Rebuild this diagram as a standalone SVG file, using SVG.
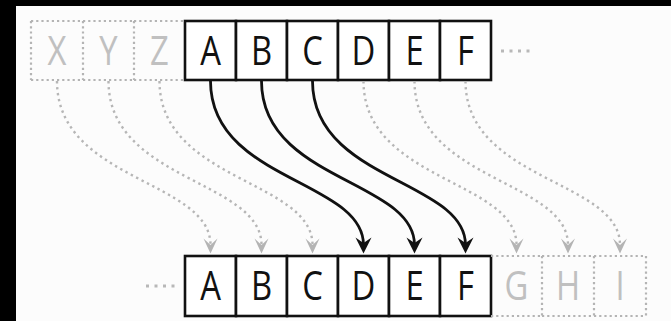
<svg xmlns="http://www.w3.org/2000/svg" width="671" height="321" viewBox="0 0 671 321">
  <style>
    .cell { fill: #ffffff; stroke: #111111; stroke-width: 2.6; }
    .ghost { fill: none; stroke: #b4b4b4; stroke-width: 2.2; stroke-dasharray: 2.2 3; }
    .lbl { font-family: "Open Sans", "Liberation Sans", sans-serif; font-size: 40px; text-anchor: middle; fill: #111111; }
    .lbl-ghost { font-family: "Open Sans", "Liberation Sans", sans-serif; font-size: 40px; text-anchor: middle; fill: #c0c0c0; }
    .ellipsis { stroke: #b8b8b8; stroke-width: 3; stroke-dasharray: 3 5.5; }
    .move { fill: none; stroke: #111111; stroke-width: 2.8; marker-end: url(#head-solid); }
    .move-ghost { fill: none; stroke: #b6b6b6; stroke-width: 2.4; stroke-dasharray: 2.4 3.6; marker-end: url(#head-ghost); }
  </style>
  <defs>
    <marker id="head-solid" viewBox="-10 -10 20 20" refX="0" refY="0" markerWidth="20" markerHeight="20" markerUnits="userSpaceOnUse" orient="auto">
      <path d="M8.5,0 L-7.5,-8 L-2,0 L-7.5,8 Z" fill="#111111"/>
    </marker>
    <marker id="head-ghost" viewBox="-10 -10 20 20" refX="0" refY="0" markerWidth="20" markerHeight="20" markerUnits="userSpaceOnUse" orient="auto">
      <path d="M8.5,0 L-6.5,-7 L0,0 L-6.5,7 Z" fill="#b4b4b4"/>
    </marker>
  </defs>

  <!-- canvas -->
  <rect x="0" y="0" width="671" height="321" fill="#000000"/>
  <rect x="16" y="6" width="655" height="315" fill="#fcfcfc"/>

  <!-- source row: ghost cells X Y Z -->
  <g id="src-X">
    <path class="ghost" d="M31,21 H83 M31,80 H83 M31,21 V80"/>
    <text class="lbl-ghost" transform="translate(57,65) scale(0.82 1)">X</text>
  </g>
  <g id="src-Y">
    <path class="ghost" d="M83,21 H134 M83,80 H134 M83,21 V80"/>
    <text class="lbl-ghost" transform="translate(108.5,65) scale(0.82 1)">Y</text>
  </g>
  <g id="src-Z">
    <path class="ghost" d="M134,21 H185 M134,80 H185 M134,21 V80"/>
    <text class="lbl-ghost" transform="translate(159.5,65) scale(0.82 1)">Z</text>
  </g>

  <!-- source row: A..F -->
  <g id="src-A">
    <rect class="cell" x="185" y="21" width="51" height="59"/>
    <text class="lbl" transform="translate(210.5,65) scale(0.82 1)">A</text>
  </g>
  <g id="src-B">
    <rect class="cell" x="236" y="21" width="51" height="59"/>
    <text class="lbl" transform="translate(261.5,65) scale(0.82 1)">B</text>
  </g>
  <g id="src-C">
    <rect class="cell" x="287" y="21" width="51" height="59"/>
    <text class="lbl" transform="translate(312.5,65) scale(0.82 1)">C</text>
  </g>
  <g id="src-D">
    <rect class="cell" x="338" y="21" width="51" height="59"/>
    <text class="lbl" transform="translate(363.5,65) scale(0.82 1)">D</text>
  </g>
  <g id="src-E">
    <rect class="cell" x="389" y="21" width="51" height="59"/>
    <text class="lbl" transform="translate(414.5,65) scale(0.82 1)">E</text>
  </g>
  <g id="src-F">
    <rect class="cell" x="440" y="21" width="51" height="59"/>
    <text class="lbl" transform="translate(465.5,65) scale(0.82 1)">F</text>
  </g>
  <g id="src-more">
    <line class="ellipsis" x1="501" y1="51" x2="531" y2="51"/>
  </g>

  <!-- target row -->
  <g id="dst-more">
    <line class="ellipsis" x1="146" y1="286" x2="176" y2="286"/>
  </g>
  <g id="dst-A">
    <rect class="cell" x="185" y="256" width="51" height="60"/>
    <text class="lbl" transform="translate(210.5,300) scale(0.82 1)">A</text>
  </g>
  <g id="dst-B">
    <rect class="cell" x="236" y="256" width="51" height="60"/>
    <text class="lbl" transform="translate(261.5,300) scale(0.82 1)">B</text>
  </g>
  <g id="dst-C">
    <rect class="cell" x="287" y="256" width="51" height="60"/>
    <text class="lbl" transform="translate(312.5,300) scale(0.82 1)">C</text>
  </g>
  <g id="dst-D">
    <rect class="cell" x="338" y="256" width="51" height="60"/>
    <text class="lbl" transform="translate(363.5,300) scale(0.82 1)">D</text>
  </g>
  <g id="dst-E">
    <rect class="cell" x="389" y="256" width="51" height="60"/>
    <text class="lbl" transform="translate(414.5,300) scale(0.82 1)">E</text>
  </g>
  <g id="dst-F">
    <rect class="cell" x="440" y="256" width="51" height="60"/>
    <text class="lbl" transform="translate(465.5,300) scale(0.82 1)">F</text>
  </g>
  <g id="dst-G">
    <path class="ghost" d="M491,256 H542 M491,316 H542 M542,256 V316"/>
    <text class="lbl-ghost" transform="translate(516.5,300) scale(0.82 1)">G</text>
  </g>
  <g id="dst-H">
    <path class="ghost" d="M542,256 H594 M542,316 H594 M594,256 V316"/>
    <text class="lbl-ghost" transform="translate(568,300) scale(0.82 1)">H</text>
  </g>
  <g id="dst-I">
    <path class="ghost" d="M594,256 H646 M594,316 H646 M646,256 V316"/>
    <text class="lbl-ghost" transform="translate(620,300) scale(0.82 1)">I</text>
  </g>

  <!-- connectors: every cell moves three places to the right -->
  <g id="connectors">
    <path class="move-ghost" d="M57,81 C57,181 210.5,180 210.5,245"/>
    <path class="move-ghost" d="M108.5,81 C108.5,181 261.5,180 261.5,245"/>
    <path class="move-ghost" d="M159.5,81 C159.5,181 312.5,180 312.5,245"/>
    <path class="move" d="M210.5,81 C210.5,181 363.5,180 363.5,245"/>
    <path class="move" d="M261.5,81 C261.5,181 414.5,180 414.5,245"/>
    <path class="move" d="M312.5,81 C312.5,181 465.5,180 465.5,245"/>
    <path class="move-ghost" d="M363.5,81 C363.5,181 516.5,180 516.5,245"/>
    <path class="move-ghost" d="M414.5,81 C414.5,181 568,180 568,245"/>
    <path class="move-ghost" d="M465.5,81 C465.5,181 620,180 620,245"/>
  </g>
</svg>
